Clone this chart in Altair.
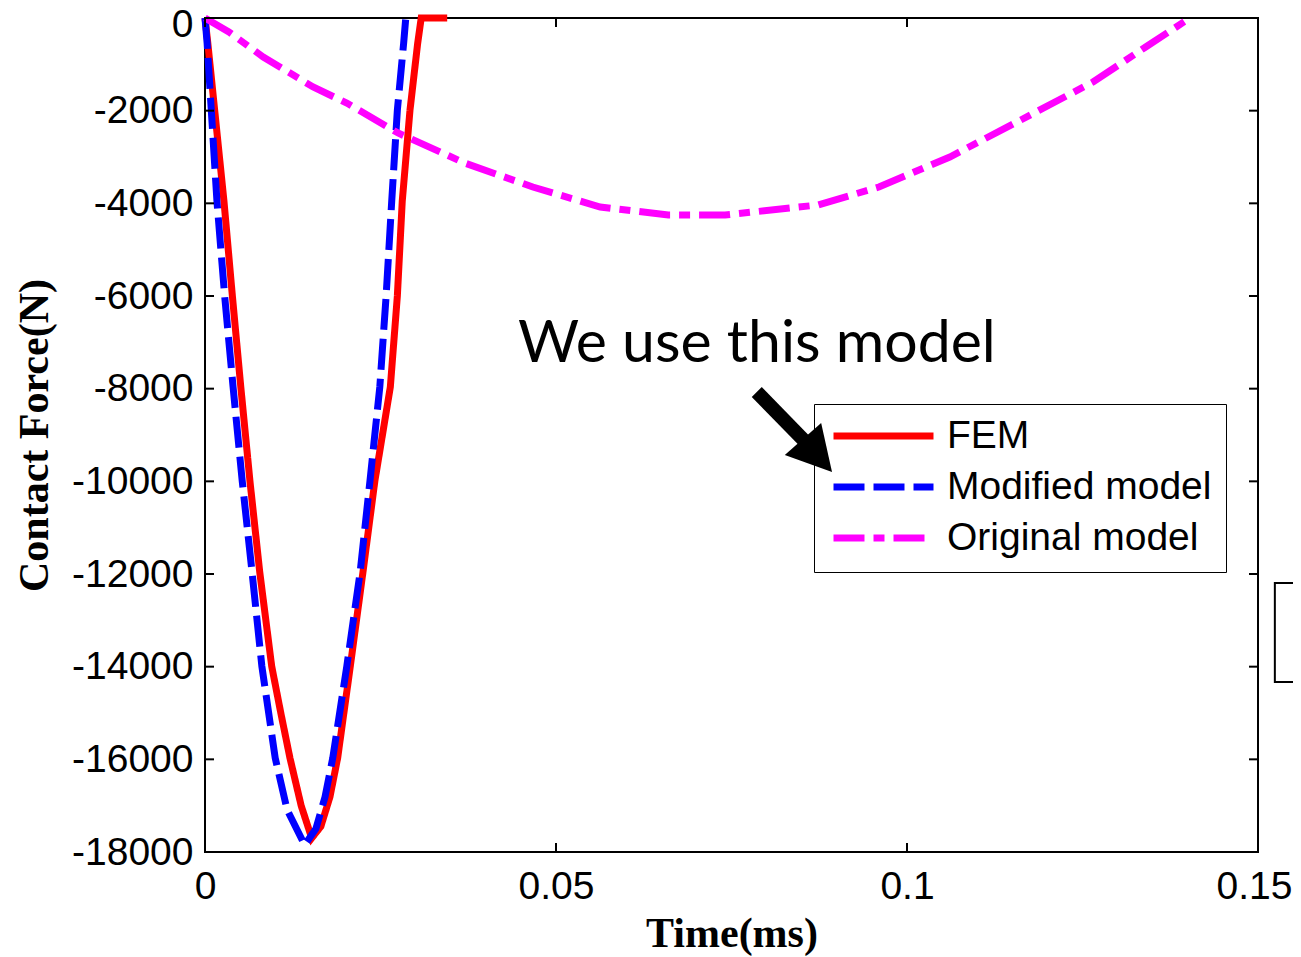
import altair as alt
import pandas as pd

# ---------------- data ----------------
series_names = ["FEM", "Modified model", "Original model"]
series_colors = ["#ff0000", "#0000ff", "#ff00ff"]
series_dashes = [[1, 0], [31, 9], [31, 9, 11, 9]]

fem_time = [0, 0.0004, 0.0027, 0.0039, 0.0051, 0.0064, 0.0078, 0.0095, 0.0108, 0.0121, 0.0137,
            0.0152, 0.0165, 0.0178, 0.0189, 0.0207, 0.0225, 0.0242, 0.0264, 0.0274, 0.0281,
            0.0292, 0.0303, 0.0308, 0.0345]
fem_force = [0, -540, -3950, -6000, -7965, -9990, -11960, -13990, -15000, -15970, -17000,
             -17700, -17450, -16810, -15970, -13990, -11960, -9990, -7965, -6000, -3950,
             -1990, -540, 0, 0]

mod_time = [0, 0.0003, 0.0017, 0.0028, 0.0040, 0.0053, 0.0067, 0.0081, 0.0100, 0.0117,
            0.0142, 0.0158, 0.0171, 0.0182, 0.0202, 0.0221, 0.0235, 0.0249, 0.0258, 0.0266,
            0.0274, 0.0283, 0.0286]
mod_force = [0, -540, -3950, -6000, -7965, -9990, -11960, -13990, -15970, -17090,
             -17850, -17500, -16810, -15970, -13990, -11960, -9990, -7965, -6000, -3950,
             -1990, -540, 0]

orig_time = [0, 0.0034, 0.0083, 0.0154, 0.0202, 0.0275, 0.0370, 0.0467, 0.0563, 0.0660,
             0.0741, 0.0873, 0.0960, 0.1061, 0.1162, 0.1265, 0.1340, 0.1403]
orig_force = [0, -302, -842, -1489, -1835, -2482, -3130, -3648, -4079, -4252,
              -4252, -4036, -3648, -3000, -2202, -1381, -626, 0]

x_ticks = [0, 0.05, 0.1, 0.15]
y_ticks = [0, -2000, -4000, -6000, -8000, -10000, -12000, -14000, -16000, -18000]

x_title = "Time(ms)"
y_title = "Contact Force(N)"

annotation_text = ["We use this model"]
annotation_x = [0.0446]
annotation_y = [-7425]
arrow_x = [0.0786]
arrow_y = [-8072]
arrow_x2 = [0.0856]
arrow_y2 = [-9160]
arrow_head_x = [0.08725]
arrow_head_y = [-9443]

side_box_x = [0.1524]
side_box_x2 = [0.1600]
side_box_y = [-12195]
side_box_y2 = [-14332]

# ---------------- tables ----------------
rows = []
for name, ts, fs in zip(series_names, [fem_time, mod_time, orig_time],
                        [fem_force, mod_force, orig_force]):
    for i, (t, f) in enumerate(zip(ts, fs)):
        rows.append({"series": name, "time": t, "force": f, "idx": i})
df = pd.DataFrame(rows)

W, H = 1053, 834
x_scale = alt.Scale(domain=[0, 0.15], nice=False, zero=False)
y_scale = alt.Scale(domain=[-18000, 0], nice=False, zero=False)

legend_def = alt.Legend(
    title=None, orient="none", legendX=609, legendY=386,
    symbolType="stroke", symbolSize=10000, symbolStrokeWidth=7, symbolOffset=2,
    labelFont="Liberation Sans", labelFontSize=39, labelColor="black", labelLimit=0,
    labelOffset=10, padding=14, rowPadding=12, clipHeight=36,
    strokeColor="black", fillColor="transparent",
)


def X(field):
    return alt.X(field, scale=x_scale, title=x_title)


def Y(field):
    return alt.Y(field, scale=y_scale, title=y_title)


lines = alt.Chart(df).mark_line(strokeWidth=7, clip=False).encode(
    x=alt.X("time:Q", scale=x_scale,
            axis=alt.Axis(values=x_ticks, title=x_title, labelExpr="datum.value + ''",
                          ticks=False, domain=False, grid=False,
                          labelFont="Liberation Sans", labelFontSize=39, labelColor="black",
                          labelPadding=15, labelFlush=False, labelOverlap=False, labelBound=False,
                          labelOffset={"condition": {"test": "datum.value > 0.12", "value": -4},
                                       "value": 0},
                          titleFont="Liberation Serif", titleFontWeight="bold", titleFontSize=42,
                          titleColor="black", titleX=W / 2, titleY=94, titleAlign="center",
                          titleBaseline="alphabetic")),
    y=alt.Y("force:Q", scale=y_scale,
            axis=alt.Axis(values=y_ticks, title=y_title, labelExpr="datum.value + ''",
                          ticks=False, domain=False, grid=False,
                          labelFont="Liberation Sans", labelFontSize=39, labelColor="black",
                          labelPadding=12, labelFlush=False, labelOverlap=False, labelBound=False,
                          labelOffset={"condition": {"test": "datum.value == 0", "value": 6},
                                       "value": 0},
                          titleFont="Liberation Serif", titleFontWeight="bold", titleFontSize=42,
                          titleColor="black", titleX=-149, titleY=H / 2, titleAngle=270,
                          titleAlign="center", titleBaseline="bottom")),
    color=alt.Color("series:N", scale=alt.Scale(domain=series_names, range=series_colors),
                    legend=legend_def),
    strokeDash=alt.StrokeDash("series:N", scale=alt.Scale(domain=series_names, range=series_dashes),
                              legend=legend_def),
    order=alt.Order("idx:Q"),
)

xt = pd.DataFrame({"v": x_ticks})
yt = pd.DataFrame({"v": y_ticks})
tick_style = dict(color="black", strokeWidth=2)
left_ticks = alt.Chart(yt).mark_rule(**tick_style).encode(
    y=Y("v:Q"), x=alt.value(0), x2=alt.value(9))
right_ticks = alt.Chart(yt).mark_rule(**tick_style).encode(
    y=Y("v:Q"), x=alt.value(W), x2=alt.value(W - 9))
bottom_ticks = alt.Chart(xt).mark_rule(**tick_style).encode(
    x=X("v:Q"), y=alt.value(H), y2=alt.value(H - 9))
top_ticks = alt.Chart(xt).mark_rule(**tick_style).encode(
    x=X("v:Q"), y=alt.value(0), y2=alt.value(9))

ann_df = pd.DataFrame({"text": annotation_text, "x": annotation_x, "y": annotation_y})
ann = alt.Chart(ann_df).mark_text(font="Lato", fontSize=59, align="left",
                                  baseline="alphabetic", color="black").encode(
    x=X("x:Q"), y=Y("y:Q"), text="text:N")

arrow_df = pd.DataFrame({"x": arrow_x, "y": arrow_y, "x2": arrow_x2, "y2": arrow_y2})
shaft = alt.Chart(arrow_df).mark_rule(color="black", strokeWidth=14, strokeCap="butt").encode(
    x=X("x:Q"), y=Y("y:Q"), x2="x2:Q", y2="y2:Q")

head_df = pd.DataFrame({"x": arrow_head_x, "y": arrow_head_y})
head = alt.Chart(head_df).mark_point(shape="M1,0L-1,-1.1L-1,1.1Z", size=1936, angle=48.7,
                                     filled=True, color="black", opacity=1, strokeWidth=0).encode(
    x=X("x:Q"), y=Y("y:Q"))

box_df = pd.DataFrame({"x": side_box_x, "x2": side_box_x2, "y": side_box_y, "y2": side_box_y2})
side_box = alt.Chart(box_df).mark_rect(fill="white", stroke="black", strokeWidth=2,
                                       clip=False).encode(
    x=X("x:Q"), x2="x2:Q", y=Y("y:Q"), y2="y2:Q")

chart = alt.layer(
    lines, left_ticks, right_ticks, bottom_ticks, top_ticks, ann, shaft, head, side_box
).properties(
    width=W, height=H,
    background="white",
    autosize=alt.AutoSizeParams(type="none"),
    padding={"left": 197, "top": 10, "right": 35, "bottom": 104},
).configure_view(
    stroke="black", strokeWidth=2
)

chart.save("out.html", embed_options={"renderer": "svg", "actions": False})
